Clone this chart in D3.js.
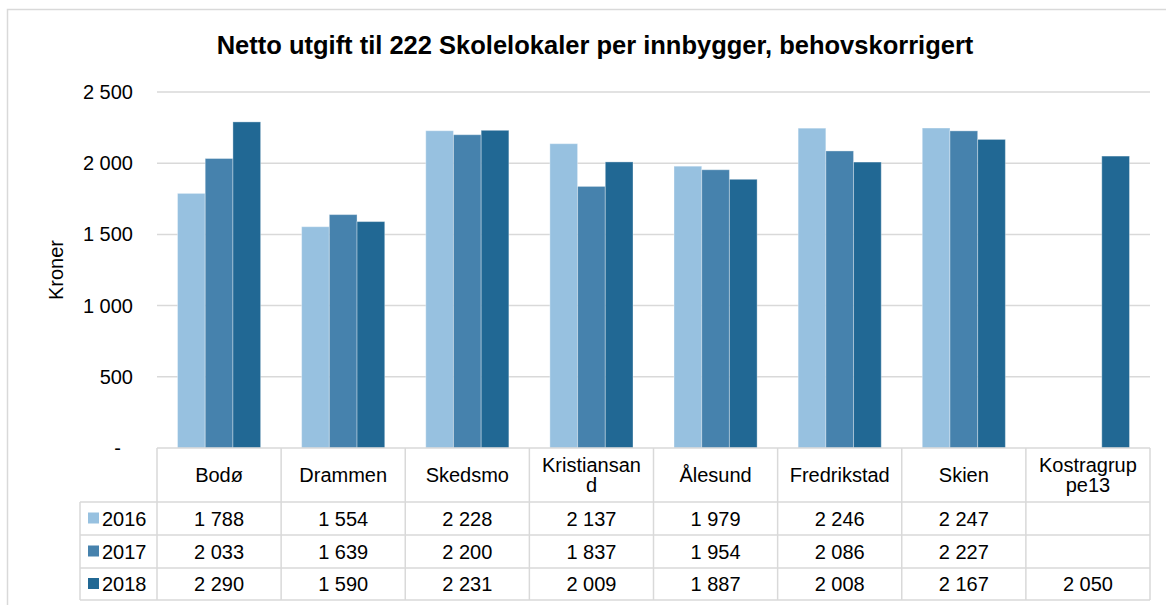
<!DOCTYPE html>
<html>
<head>
<meta charset="utf-8">
<script src="https://cdn.jsdelivr.net/npm/d3@7"></script>
<style>
  body { margin: 0; background: #fff; }
  svg { font-family: "Liberation Sans", Arial, sans-serif; }
</style>
</head>
<body>
<svg id="chart" width="1166" height="605"></svg>
<script>
// données du graphique
var categories = ["Bodø", "Drammen", "Skedsmo", "Kristiansand", "Ålesund", "Fredrikstad", "Skien", "Kostragruppe13"];
var headerLines = [["Bodø"], ["Drammen"], ["Skedsmo"], ["Kristiansan", "d"], ["Ålesund"], ["Fredrikstad"], ["Skien"], ["Kostragrup", "pe13"]];
var years = ["2016", "2017", "2018"];
var v2016 = [1788, 1554, 2228, 2137, 1979, 2246, 2247, null];
var v2017 = [2033, 1639, 2200, 1837, 1954, 2086, 2227, null];
var v2018 = [2290, 1590, 2231, 2009, 1887, 2008, 2167, 2050];
var yTicks = [0, 500, 1000, 1500, 2000, 2500];
var colors = ["#97c1e0", "#4682ad", "#216894"];

var series = [v2016, v2017, v2018];

var svg = d3.select("#chart");
var plotLeft = 157, plotRight = 1150, plotTop = 92, base = 448;
var rowH = [54, 33, 33, 32];
var fs = 20;

var fmt = function(v) {
    if (v == null) return "";
    if (v === 0) return "-";
    return d3.format(",")(v).replace(/,/g, " ");
};

// cadre extérieur
svg.append("rect")
    .attr("x", 7.5).attr("y", 9.5)
    .attr("width", 1170).attr("height", 600)
    .attr("fill", "none").attr("stroke", "#d9d9d9").attr("stroke-width", 1.5);

var x0 = d3.scaleBand().domain(categories).range([plotLeft, plotRight]);
var x1 = d3.scaleBand().domain(years).range([0, x0.bandwidth()]).paddingInner(0).paddingOuter(0.74);
var y = d3.scaleLinear().domain([0, 2500]).range([base, plotTop]);

// grille
svg.append("g").selectAll("line")
    .data(yTicks.filter(function(d) { return d > 0; }))
    .enter().append("line")
    .attr("x1", plotLeft).attr("x2", plotRight)
    .attr("y1", function(d) { return y(d); }).attr("y2", function(d) { return y(d); })
    .attr("stroke", "#d9d9d9").attr("stroke-width", 1.5);

// axe y
var yAxis = svg.append("g")
    .attr("transform", "translate(" + 133 + ",0)")
    .call(d3.axisLeft(y).tickValues(yTicks).tickSize(0).tickPadding(0).tickFormat(fmt));
yAxis.select(".domain").remove();
yAxis.selectAll("text")
    .attr("font-size", fs).attr("fill", "#000")
    .attr("font-family", "Liberation Sans, Arial, sans-serif")
    .attr("dx", function(d) { return d === 0 ? -12 : 0; });

svg.append("text")
    .attr("transform", "translate(63,270) rotate(-90)")
    .attr("text-anchor", "middle")
    .attr("font-size", fs)
    .text("Kroner");

// titre
svg.append("text")
    .attr("x", 595).attr("y", 54)
    .attr("text-anchor", "middle")
    .attr("font-size", 25.5).attr("font-weight", "bold")
    .text("Netto utgift til 222 Skolelokaler per innbygger, behovskorrigert");

// barres
var groups = svg.append("g").selectAll("g")
    .data(categories)
    .enter().append("g")
    .attr("transform", function(d) { return "translate(" + x0(d) + ",0)"; });

groups.selectAll("rect")
    .data(function(d, i) {
        return years.map(function(yr, j) { return { year: yr, value: series[j][i], c: colors[j] }; })
            .filter(function(e) { return e.value != null; });
    })
    .enter().append("rect")
    .attr("x", function(d) { return x1(d.year); })
    .attr("y", function(d) { return y(d.value); })
    .attr("width", x1.bandwidth())
    .attr("height", function(d) { return base - y(d.value); })
    .attr("fill", function(d) { return d.c; })
    .attr("stroke", "rgba(255,255,255,0.35)").attr("stroke-width", 1);

// tableau de données
var table = svg.append("g");
var rowY = [base];
rowH.forEach(function(h, i) { rowY.push(rowY[i] + h); });
var tableLeft = 80;

// lignes horizontales
table.selectAll("line.h")
    .data(rowY)
    .enter().append("line")
    .attr("x1", function(d, i) { return i === 0 ? plotLeft : tableLeft; })
    .attr("x2", plotRight)
    .attr("y1", function(d) { return d; }).attr("y2", function(d) { return d; })
    .attr("stroke", "#d9d9d9").attr("stroke-width", 1.5);
// lignes verticales
var cols = categories.map(function(c) { return x0(c); }).concat([plotRight]);
table.selectAll("line.v")
    .data(cols)
    .enter().append("line")
    .attr("x1", function(d) { return d; }).attr("x2", function(d) { return d; })
    .attr("y1", base).attr("y2", rowY[4])
    .attr("stroke", "#d9d9d9").attr("stroke-width", 1.5);
table.append("line")
    .attr("x1", tableLeft).attr("x2", tableLeft)
    .attr("y1", rowY[1]).attr("y2", rowY[4])
    .attr("stroke", "#d9d9d9").attr("stroke-width", 1.5);

// en-têtes
categories.forEach(function(c, i) {
    var lines = headerLines[i];
    var cx = x0(c) + x0.bandwidth() / 2;
    var t = table.append("text")
        .attr("text-anchor", "middle")
        .attr("font-size", fs);
    lines.forEach(function(l, k) {
        t.append("tspan")
            .attr("x", cx)
            .attr("y", lines.length === 1 ? base + 34 : base + 24 + k * 20)
            .text(l);
    });
});

// lignes de valeurs
years.forEach(function(yr, j) {
    var cy = rowY[j + 1] + rowH[j + 1] / 2 + 7;
    table.append("rect")
        .attr("x", 88).attr("y", cy - 13)
        .attr("width", 11).attr("height", 11)
        .attr("fill", colors[j]);
    table.append("text")
        .attr("x", 102).attr("y", cy)
        .attr("font-size", fs)
        .text(yr);
    categories.forEach(function(c, i) {
        table.append("text")
            .attr("x", x0(c) + x0.bandwidth() / 2).attr("y", cy)
            .attr("text-anchor", "middle")
            .attr("font-size", fs)
            .text(fmt(series[j][i]));
    });
});
</script>
</body>
</html>
